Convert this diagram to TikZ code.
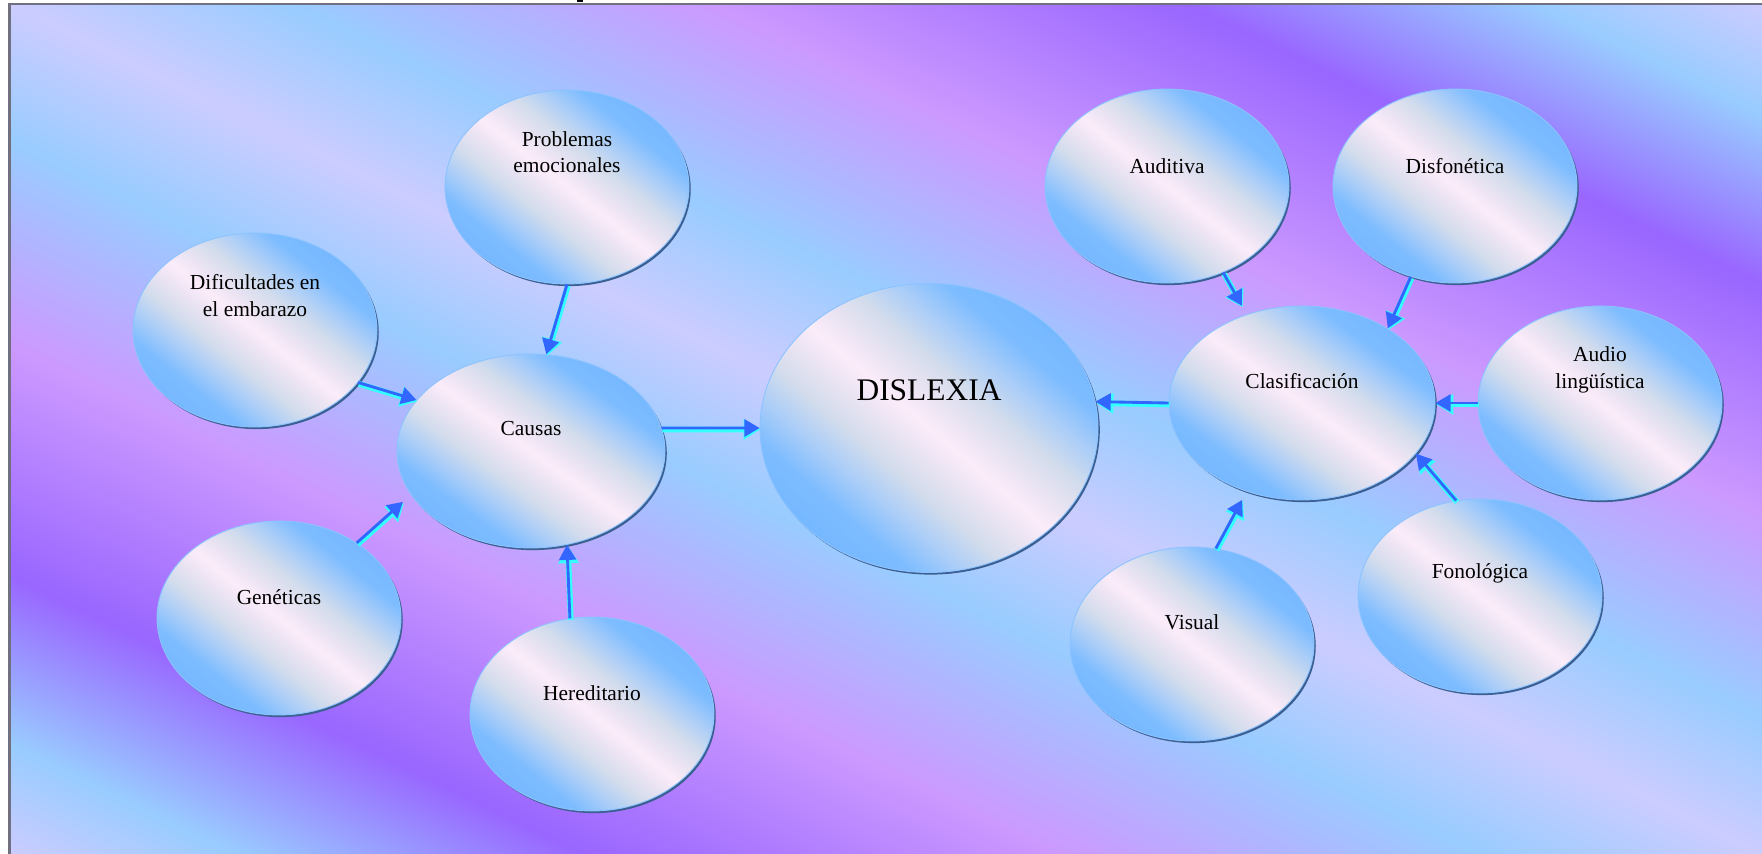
\documentclass[tikz,border=0pt]{standalone}
\usepackage{fontspec}
\setmainfont{Liberation Serif}
\usetikzlibrary{shapes.geometric,arrows.meta,shadows}
\definecolor{bglav}{RGB}{204,204,255}
\definecolor{bglb}{RGB}{153,204,255}
\definecolor{bgpp}{RGB}{204,153,255}
\definecolor{bgpu}{RGB}{153,102,255}
\definecolor{ellpink}{RGB}{252,236,250}
\definecolor{ellpg}{RGB}{236,228,243}
\definecolor{ellgrey}{RGB}{210,220,236}
\definecolor{elllb}{RGB}{170,205,248}
\definecolor{ellblue}{RGB}{125,188,255}
\definecolor{ellbluex}{RGB}{118,184,255}
\definecolor{elledge}{RGB}{140,195,255}
\definecolor{ellshadow}{RGB}{60,95,145}
\definecolor{arrblue}{RGB}{51,102,255}
\definecolor{arrcyan}{RGB}{51,255,255}
\definecolor{framegray}{RGB}{112,112,128}
% position p = 50 + 25*sigma, sigma = signed distance from the top-left/bottom-right diagonal
\pgfdeclarehorizontalshading{bgshade}{100bp}{color(0bp)=(bglav); color(25bp)=(bglav); color(28.25bp)=(bglb); color(33.25bp)=(bgpu); color(40bp)=(bgpp); color(46bp)=(bglb); color(50bp)=(bglav); color(54bp)=(bglb); color(60bp)=(bgpp); color(66.75bp)=(bgpu); color(71.75bp)=(bglb); color(75bp)=(bglav); color(100bp)=(bglav)}
\pgfdeclarehorizontalshading{ellshade}{100bp}{color(0bp)=(ellbluex); color(32.5bp)=(ellbluex); color(36.25bp)=(ellblue); color(40bp)=(elllb); color(43.75bp)=(ellgrey); color(47.5bp)=(ellpg); color(50bp)=(ellpink); color(52.5bp)=(ellpg); color(56.25bp)=(ellgrey); color(60bp)=(elllb); color(63.75bp)=(ellblue); color(67.5bp)=(ellbluex); color(100bp)=(ellbluex)}
\tikzset{
  ellbase/.style={ellipse, inner sep=0pt,
    general shadow={shadow xshift=1pt, shadow yshift=-1.2pt, fill=ellshadow}},
  lbl/.style={font=\fontsize{12}{15.1}\selectfont, align=center, inner sep=0pt, text=black},
  arrcy/.style={draw=arrcyan, line width=3.2pt, -{Triangle[length=9.5pt,width=11pt]},
    transform canvas={shift={(0.5pt,-0.8pt)}}},
  arrbl/.style={draw=arrblue, line width=1.6pt, -{Triangle[length=8.5pt,width=9.5pt]}},
}
% diagonal shading filling a W x H box (pt) centred on a named point
\newcommand\diagshade[4]{%
  \pgfmathsetmacro\dsb{0.006*#3}%
  \pgfmathsetmacro\dsa{#3*(0.01-\dsb/#4)}%
  \pgfmathsetmacro\dsd{-\dsb*#4/#3}%
  \shade[shading=#1, transform canvas={cm={\dsa,\dsb,\dsb,\dsd,(#2)}}] (-100pt,-280pt) rectangle (100pt,-80pt);%
  \shade[shading=#1, transform canvas={cm={\dsa,\dsb,\dsb,\dsd,(#2)}}] (-100pt,-100pt) rectangle (100pt,100pt);%
  \shade[shading=#1, transform canvas={cm={\dsa,\dsb,\dsb,\dsd,(#2)}}] (-100pt,80pt) rectangle (100pt,280pt);%
}
% [label style]{name}{position}{W pt}{H pt}{label yshift pt}{text}
\newcommand\ellnode[7][]{%
  \node[ellbase, minimum width=#4pt, minimum height=#5pt] (#2) at #3 {};
  \begin{scope}
    \clip (#2.center) ellipse [x radius={#4pt/2}, y radius={#5pt/2}];
    \diagshade{ellshade}{#2.center}{#4}{#5}
  \end{scope}
  \draw[elledge, line width=0.5pt] (#2.center) ellipse [x radius={#4pt/2}, y radius={#5pt/2}];
  \node[lbl,#1] at ([yshift=#6pt]#2.center) {#7};
}
\newcommand\myarrow[3][]{\draw[arrcy,#1] #2 -- #3; \draw[arrbl,#1] #2 -- #3;}
\begin{document}
\begin{tikzpicture}[x=0.56pt,y=-0.56pt]
\useasboundingbox (0,0) rectangle (1762,854);
\fill[white] (0,0) rectangle (1762,854);
\coordinate (bgc) at (885.5,429);
\begin{scope}
  \clip (9,4) rectangle (1762,854);
  \diagshade{bgshade}{bgc}{981.68}{476}
\end{scope}
\draw[framegray, line width=1.2pt] (9.5,854) -- (9.5,4) -- (1762,4);
\fill[black] (577,0) rectangle (583,2.5);

\ellnode{prob}{(567,187)}{136.6}{108.6}{19.5}{Problemas\\emocionales}
\ellnode{dif}{(255,330)}{136.6}{108.6}{19.2}{Dificultades en\\el embarazo}
\ellnode{causas}{(531,451)}{150.1}{108.6}{12.8}{Causas}
\ellnode{gen}{(279,618)}{136.6}{108.6}{11.4}{Genéticas}
\ellnode{her}{(592,714)}{136.6}{108.6}{11.7}{Hereditario}
\ellnode[font=\fontsize{17.6}{20}\selectfont]{dis}{(929,428)}{189.3}{161.8}{21.2}{DISLEXIA}
\ellnode{clas}{(1302,403)}{149}{108.6}{12.2}{Clasificación}
\ellnode{aud}{(1167,186)}{136.6}{108.6}{11.1}{Auditiva}
\ellnode{disf}{(1455,186)}{136.6}{108.6}{11.1}{Disfonética}
\ellnode{audl}{(1600,403)}{136.6}{108.6}{18.4}{Audio\\lingüística}
\ellnode{fon}{(1480,596)}{136.6}{108.6}{12.6}{Fonológica}
\ellnode{vis}{(1192,644)}{136.6}{108.6}{12}{Visual}

\myarrow{(prob.-90)}{(causas.81)}
\myarrow{(dif.-27)}{(causas.156)}
\myarrow[shorten >=6pt]{(gen.44)}{(causas.200)}
\myarrow{(her.103)}{(causas.-69)}
\myarrow{(causas.10)}{(dis.180)}
\myarrow{(clas.180)}{(dis.9)}
\myarrow[shorten >=5.6pt]{(aud.-57)}{(clas.122)}
\myarrow{(disf.-116)}{(clas.41)}
\myarrow{(audl.180)}{(clas.0)}
\myarrow{(fon.104)}{(clas.-24)}
\myarrow[shorten >=5.3pt]{(vis.76)}{(clas.-122)}
\end{tikzpicture}
\end{document}
